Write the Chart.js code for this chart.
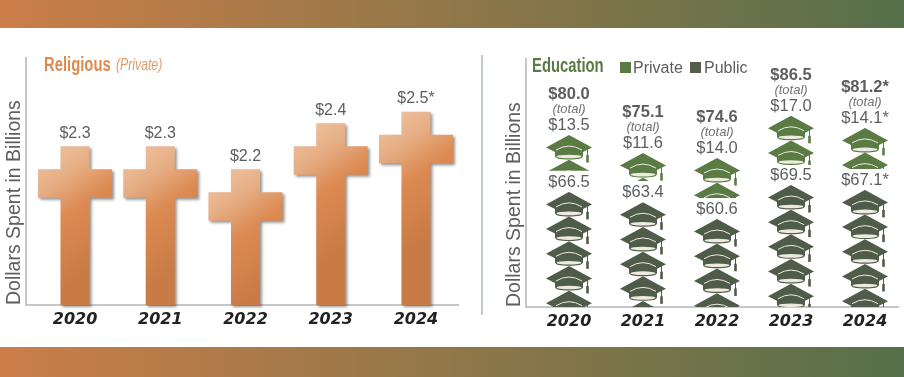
<!DOCTYPE html>
<html>
<head>
<meta charset="utf-8">
<script src="https://cdn.jsdelivr.net/npm/chart.js@4"></script>
<style>
  html, body { margin: 0; padding: 0; background: #fff; }
  body { position: relative; width: 904px; height: 377px; overflow: hidden; }
  .band { position: absolute; left: 0; width: 904px; background: linear-gradient(to right, #cc7e48, #55704a); }
  #divider { position: absolute; left: 481px; top: 55px; width: 1.5px; height: 260px; background: #c3c9d4; }
  canvas { position: absolute; top: 0; }
</style>
</head>
<body>
<div class="band" style="top:0;height:28px"></div>
<div class="band" style="top:347px;height:30px"></div>
<div id="divider"></div>
<canvas id="religious" width="480" height="347" style="left:0"></canvas>
<canvas id="education" width="420" height="347" style="left:484px"></canvas>
<script>
const years = ['2020', '2021', '2022', '2023', '2024'];

// religious: dollars, 2024 is drawn a little short of its $2.5 estimate
const religiousValues = [2.3, 2.3, 2.2, 2.4, 2.45];
const religiousLabels = ['$2.3', '$2.3', '$2.2', '$2.4', '$2.5*'];

// education: stack heights, counted in hats
const publicHats = [4.66, 4.24, 3.56, 4.94, 4.74];
const privateFrom = [5.52, 5.1, 4.41, 5.75, 5.59];
const privateTo = [6.96, 6.23, 6.03, 7.74, 7.25];
const publicLabels = ['$66.5', '$63.4', '$60.6', '$69.5', '$67.1*'];
const privateLabels = ['$13.5', '$11.6', '$14.0', '$17.0', '$14.1*'];
const totalLabels = ['$80.0', '$75.1', '$74.6', '$86.5', '$81.2*'];

const GREY = '#5c5e60';
const SANS = '"Liberation Sans", Arial, sans-serif';
const HAT_PITCH = 24.7;

function text(ctx, str, x, y, font, color, align) {
    ctx.font = font;
    ctx.fillStyle = color;
    ctx.textAlign = align || 'center';
    ctx.textBaseline = 'alphabetic';
    ctx.fillText(str, x, y);
}

// no narrow face installed, so squeeze the titles
function narrowText(ctx, str, x, y, font, color, squeeze) {
    ctx.save();
    ctx.translate(x, y);
    ctx.scale(squeeze, 1);
    text(ctx, str, 0, 0, font, color, 'left');
    ctx.restore();
}

// y axis sits a few px left of the plot, baseline stops short on the right
function axisLines(axisLeft, baseRight) {
    return {
        id: 'axisLines',
        beforeDatasetsDraw(chart) {
            const { ctx, chartArea } = chart;
            ctx.save();
            ctx.strokeStyle = '#b2b4b6';
            ctx.lineWidth = 1.5;
            ctx.beginPath();
            ctx.moveTo(axisLeft, chartArea.top);
            ctx.lineTo(axisLeft, chartArea.bottom);
            ctx.lineTo(baseRight, chartArea.bottom);
            ctx.stroke();
            ctx.restore();
        }
    };
}

const crossPlugin = {
    id: 'crosses',
    afterDatasetsDraw(chart) {
        const ctx = chart.ctx;
        const base = chart.chartArea.bottom;
        chart.getDatasetMeta(0).data.forEach(function(bar, i) {
            const x = bar.x, top = bar.y;
            const grad = ctx.createLinearGradient(x - 37, top, x + 37, top + 110);
            grad.addColorStop(0, '#efc6a6');
            grad.addColorStop(0.3, '#e6ae84');
            grad.addColorStop(0.55, '#dc8a52');
            grad.addColorStop(1, '#c97b45');
            ctx.save();
            ctx.beginPath();
            ctx.moveTo(x - 14.5, top);
            ctx.lineTo(x + 14.5, top);
            ctx.lineTo(x + 14.5, top + 23);
            ctx.lineTo(x + 37, top + 23);
            ctx.lineTo(x + 37, top + 51.5);
            ctx.lineTo(x + 14.5, top + 51.5);
            ctx.lineTo(x + 14.5, base);
            ctx.lineTo(x - 14.5, base);
            ctx.lineTo(x - 14.5, top + 51.5);
            ctx.lineTo(x - 37, top + 51.5);
            ctx.lineTo(x - 37, top + 23);
            ctx.lineTo(x - 14.5, top + 23);
            ctx.closePath();
            ctx.shadowColor = 'rgba(60,60,60,0.55)';
            ctx.shadowOffsetX = 2;
            ctx.shadowOffsetY = 2;
            ctx.shadowBlur = 3;
            ctx.fillStyle = grad;
            ctx.fill();
            ctx.restore();
            text(ctx, religiousLabels[i], x, top - 8.5, '16px ' + SANS, GREY);
        });
        narrowText(ctx, 'Religious', 44, 71, 'bold 19.5px ' + SANS, '#dd8a50', 0.76);
        narrowText(ctx, '(Private)', 116, 70, 'italic 17px ' + SANS, '#e09a68', 0.72);
    }
};

function hat(ctx, x, y, color) {
    ctx.fillStyle = color;
    ctx.beginPath();
    ctx.moveTo(x, y);
    ctx.lineTo(x + 23, y + 12.5);
    ctx.lineTo(x + 14, y + 17);
    ctx.lineTo(x + 14, y + 21);
    ctx.quadraticCurveTo(x + 14, y + 24.5, x, y + 24.5);
    ctx.quadraticCurveTo(x - 14, y + 24.5, x - 14, y + 21);
    ctx.lineTo(x - 14, y + 17);
    ctx.lineTo(x - 23, y + 12.5);
    ctx.closePath();
    ctx.fill();
    ctx.strokeStyle = '#efeadf';
    ctx.lineWidth = 1;
    ctx.beginPath();
    ctx.moveTo(x - 13, y + 15);
    ctx.quadraticCurveTo(x, y + 7, x + 13, y + 15);
    ctx.stroke();
    ctx.fillStyle = '#efeadf';
    ctx.beginPath();
    ctx.ellipse(x, y + 21.5, 12.5, 1.8, 0, 0, Math.PI * 2);
    ctx.fill();
    // tassel
    ctx.strokeStyle = color;
    ctx.beginPath();
    ctx.moveTo(x + 18.5, y + 14);
    ctx.lineTo(x + 18.5, y + 21);
    ctx.stroke();
    ctx.fillStyle = color;
    ctx.fillRect(x + 17.2, y + 20, 2.6, 7.5);
}

function hatStack(ctx, bar, color) {
    ctx.save();
    ctx.beginPath();
    ctx.rect(bar.x - 30, bar.y, 60, bar.base - bar.y);
    ctx.clip();
    const n = Math.ceil((bar.base - bar.y) / HAT_PITCH);
    for (let k = n - 1; k >= 0; k--) {
        hat(ctx, bar.x, bar.y + k * HAT_PITCH, color);
    }
    ctx.restore();
}

const hatPlugin = {
    id: 'hats',
    afterDatasetsDraw(chart) {
        const ctx = chart.ctx;
        const pub = chart.getDatasetMeta(0).data;
        const priv = chart.getDatasetMeta(1).data;
        years.forEach(function(y, i) {
            hatStack(ctx, pub[i], '#505c4a');
            hatStack(ctx, priv[i], '#5b7b45');
            const x = pub[i].x;
            text(ctx, publicLabels[i], x, pub[i].y - 5, '16.5px ' + SANS, GREY);
            text(ctx, privateLabels[i], x, priv[i].y - 5, '16.5px ' + SANS, GREY);
            text(ctx, '(total)', x, priv[i].y - 22, 'italic 13px ' + SANS, '#707274');
            text(ctx, totalLabels[i], x, priv[i].y - 36, 'bold 16.5px ' + SANS, GREY);
        });
        // legend, canvas starts at x=484
        narrowText(ctx, 'Education', 48, 72, 'bold 19.5px ' + SANS, '#5a7a46', 0.76);
        ctx.fillStyle = '#5b7b45';
        ctx.fillRect(136, 62, 11, 11);
        text(ctx, 'Private', 149, 73, '16px ' + SANS, GREY, 'left');
        ctx.fillStyle = '#525d4c';
        ctx.fillRect(206, 62, 11, 11);
        text(ctx, 'Public', 220, 73, '16px ' + SANS, GREY, 'left');
    }
};

function baseOptions(yMin, yMax, yWidth, xHeight, padTop, padRight, titlePad) {
    return {
        responsive: false,
        animation: false,
        layout: { padding: { top: padTop, right: padRight, left: 0, bottom: 0 } },
        plugins: { legend: { display: false }, tooltip: { enabled: false } },
        scales: {
            x: {
                grid: { display: false, drawTicks: false },
                border: { display: false },
                afterFit: function(s) { s.height = xHeight; },
                ticks: {
                    color: '#222',
                    padding: 5,
                    maxRotation: 0,
                    font: { family: '"DejaVu Sans"', size: 16, weight: 'bold', style: 'italic' }
                }
            },
            y: {
                min: yMin,
                max: yMax,
                grid: { display: false },
                border: { display: false },
                ticks: { display: false },
                afterFit: function(s) { s.width = yWidth; },
                title: {
                    display: true,
                    text: 'Dollars Spent in Billions',
                    align: 'start',
                    color: GREY,
                    padding: titlePad,
                    font: { family: SANS, size: 19.5, weight: 'normal' }
                }
            }
        }
    };
}

new Chart(document.getElementById('religious'), {
    type: 'bar',
    data: {
        labels: years,
        datasets: [{ label: 'Religious', data: religiousValues, backgroundColor: 'transparent', barThickness: 29 }]
    },
    options: baseOptions(1.61, 2.688, 32.4, 42, 57, 21.4, { top: 3, bottom: 0 }),
    plugins: [axisLines(26, 459), crossPlugin]
});

new Chart(document.getElementById('education'), {
    type: 'bar',
    data: {
        labels: years,
        datasets: [
            { label: 'Public', data: publicHats, backgroundColor: 'transparent', barThickness: 46, grouped: false },
            { label: 'Private', data: privateFrom.map((v, i) => [v, privateTo[i]]), backgroundColor: 'transparent', barThickness: 46, grouped: false }
        ]
    },
    options: baseOptions(0, 10.08, 48, 40, 58, 2, { top: 19, bottom: 0 }),
    plugins: [axisLines(42, 415), hatPlugin]
});
</script>
</body>
</html>
